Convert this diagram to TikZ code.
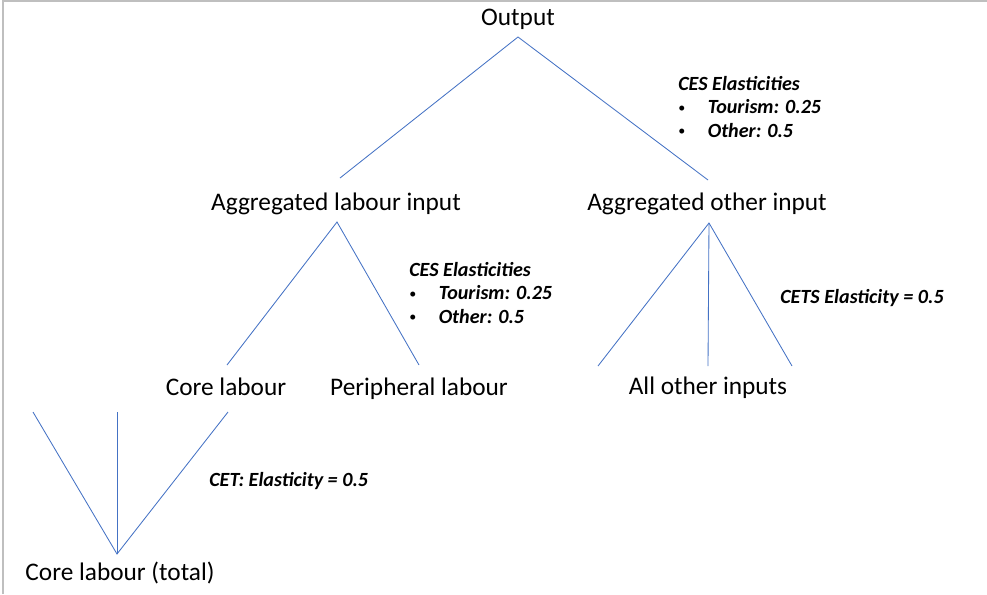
\documentclass[tikz,border=0pt]{standalone}
\usepackage{fontspec}
\setmainfont{Carlito}
\usepackage{tikz}
\usetikzlibrary{positioning,calc}

\definecolor{branchblue}{RGB}{68,114,196}
\definecolor{framegray}{RGB}{191,191,191}

\newcommand{\blt}{\makebox[21pt][l]{\raisebox{1.2pt}{\normalfont\fontsize{10}{10}\selectfont\textbullet}}}

\begin{document}
\begin{tikzpicture}[x=0.025cm,y=-0.025cm,
  level/.style={font=\fontsize{18}{22}\selectfont,inner sep=0pt,anchor=base},
  note/.style={font=\fontsize{14.3}{16.4}\selectfont\bfseries\itshape,inner sep=0pt,anchor=base west,align=left},
  link/.style={draw=branchblue,line width=0.6pt}]
  \useasboundingbox (0,0) rectangle (987,594);
  % frame on top and left
  \draw[framegray,line width=0.8pt] (3,594) -- (3,1) -- (987,1);

  % nodes of the nesting tree
  \node[level] (out) at (518,25) {Output};
  \node[level] (lab) at (336,210) {Aggregated labour input};
  \node[level] (oth) at (707,210) {Aggregated other input};
  \node[level] (core) at (226,395) {Core labour};
  \node[level] (peri) at (419,395) {Peripheral labour};
  \node[level] (all) at (708,394) {All other inputs};
  \node[level] (tot) at (120,580) {Core labour (total)};

  % top nest
  \draw[link] ($(lab.base)+(4,-32)$) -- ($(out.base)+(0,12)$) -- ($(oth.base)+(1,-30)$);
  % labour nest
  \draw[link] ($(core.base)+(1,-30)$) -- ($(lab.base)+(1,12)$) -- ($(peri.base)+(0,-30)$);
  % other inputs nest
  \draw[link] ($(all.base)+(-110,-28)$) -- ($(oth.base)+(2,13)$) -- ($(all.base)+(84,-28)$);
  \draw[link] ($(oth.base)+(2,13)$) -- ($(all.base)+(0,-28)$);
  % core labour split
  \draw[link] ($(tot.base)+(-87,-168)$) -- ($(tot.base)+(-3,-26)$) -- ($(core.base)+(2,17)$);
  \draw[link] ($(tot.base)+(-3,-26)$) -- ($(tot.base)+(-3,-168)$);

  % elasticities (base = last line)
  \node[note] (cesout) at (678,137) {CES Elasticities\\
    \blt Tourism: 0.25\\
    \blt Other: 0.5};
  \node[note] (ceslab) at (409,323) {CES Elasticities\\
    \blt Tourism: 0.25\\
    \blt Other: 0.5};
  \node[note] (cets) at (780,303) {CETS Elasticity = 0.5};
  \node[note] (cet) at (209,486) {CET: Elasticity = 0.5};
\end{tikzpicture}
\end{document}
